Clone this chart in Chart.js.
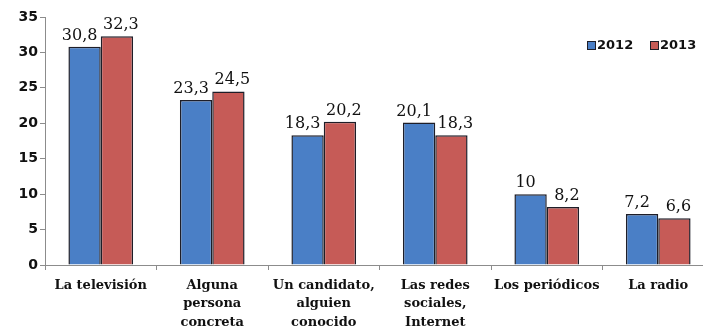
<!DOCTYPE html>
<html>
<head>
<meta charset="utf-8">
<script src="https://cdn.jsdelivr.net/npm/chart.js@4"></script>
<style>
  html, body { margin: 0; padding: 0; background: #fff; overflow: hidden; }
  #wrap { width: 703px; height: 329px; overflow: hidden; }
</style>
</head>
<body>
<div id="wrap"><canvas id="myChart" width="716" height="329"></canvas></div>
<script>
// categories and values
var categories = [
  ["La televisión"],
  ["Alguna", "persona", "concreta"],
  ["Un candidato,", "alguien", "conocido"],
  ["Las redes", "sociales,", "Internet"],
  ["Los periódicos"],
  ["La radio"]
];
var values2012 = [30.8, 23.3, 18.3, 20.1, 10, 7.2];
var values2013 = [32.3, 24.5, 20.2, 18.3, 8.2, 6.6];
var seriesNames = ["2012", "2013"];
var yTicks = { min: 0, max: 35, step: 5 };

var blue = "#4a7fc6";
var red = "#c65b57";
var edge = "#1e1e28";

// numbers over the bars, with a decimal comma
// (the 2012 ones lean left, the 2013 ones right, so they don't touch)
const valueLabels = {
  id: "valueLabels",
  afterDatasetsDraw(chart) {
    const ctx = chart.ctx;
    const shift = [-5, 4];
    ctx.save();
    ctx.font = "16px 'DejaVu Serif'";
    ctx.fillStyle = "#111";
    ctx.textAlign = "center";
    ctx.textBaseline = "alphabetic";
    chart.data.datasets.forEach((ds, i) => {
      const meta = chart.getDatasetMeta(i);
      meta.data.forEach((bar, j) => {
        const txt = String(ds.data[j]).replace(".", ",");
        ctx.fillText(txt, bar.x + shift[i], bar.y - 7);
      });
    });
    ctx.restore();
  }
};

// small legend at the top right
const cornerLegend = {
  id: "cornerLegend",
  afterDraw(chart) {
    const ctx = chart.ctx;
    const colors = [blue, red];
    let x = 587;
    const y = 45;
    ctx.save();
    ctx.font = "bold 13px 'DejaVu Sans'";
    ctx.textBaseline = "middle";
    ctx.textAlign = "left";
    seriesNames.forEach((name, i) => {
      ctx.fillStyle = colors[i];
      ctx.fillRect(x, y - 4, 9, 9);
      ctx.strokeStyle = edge;
      ctx.lineWidth = 1;
      ctx.strokeRect(x + 0.5, y - 3.5, 8, 8);
      ctx.fillStyle = "#111";
      ctx.fillText(name, x + 10, y + 1);
      x += 63;
    });
    ctx.restore();
  }
};

new Chart(document.getElementById("myChart"), {
  type: "bar",
  data: {
    labels: categories,
    datasets: [
      {
        label: seriesNames[0],
        data: values2012,
        backgroundColor: blue,
        borderColor: edge,
        borderWidth: 1.5,
        borderSkipped: "bottom",
        categoryPercentage: 0.58,
        barPercentage: 1.0
      },
      {
        label: seriesNames[1],
        data: values2013,
        backgroundColor: red,
        borderColor: edge,
        borderWidth: 1.5,
        borderSkipped: "bottom",
        categoryPercentage: 0.58,
        barPercentage: 1.0
      }
    ]
  },
  options: {
    responsive: false,
    animation: false,
    events: [],
    layout: { padding: { top: 17, right: 2, left: 0, bottom: 0 } },
    plugins: {
      legend: { display: false },
      tooltip: { enabled: false }
    },
    scales: {
      x: {
        grid: {
          drawOnChartArea: false,
          drawTicks: true,
          tickLength: 5,
          color: "#8c8c8c"
        },
        border: { color: "#8c8c8c", width: 1 },
        ticks: {
          color: "#111",
          padding: 6,
          maxRotation: 0,
          autoSkip: false,
          font: { family: "'DejaVu Serif'", weight: "bold", size: 13, lineHeight: 1.42 }
        },
        afterFit(scale) { scale.height = 64; }
      },
      y: {
        min: yTicks.min,
        max: yTicks.max,
        grid: {
          drawOnChartArea: false,
          drawTicks: true,
          tickLength: 5,
          color: "#8c8c8c"
        },
        border: { color: "#8c8c8c", width: 1 },
        ticks: {
          stepSize: yTicks.step,
          color: "#111",
          padding: 2,
          font: { family: "'DejaVu Sans'", weight: "bold", size: 14 }
        },
        afterFit(scale) { scale.width = 45; }
      }
    }
  },
  plugins: [valueLabels, cornerLegend]
});
</script>
</body>
</html>
